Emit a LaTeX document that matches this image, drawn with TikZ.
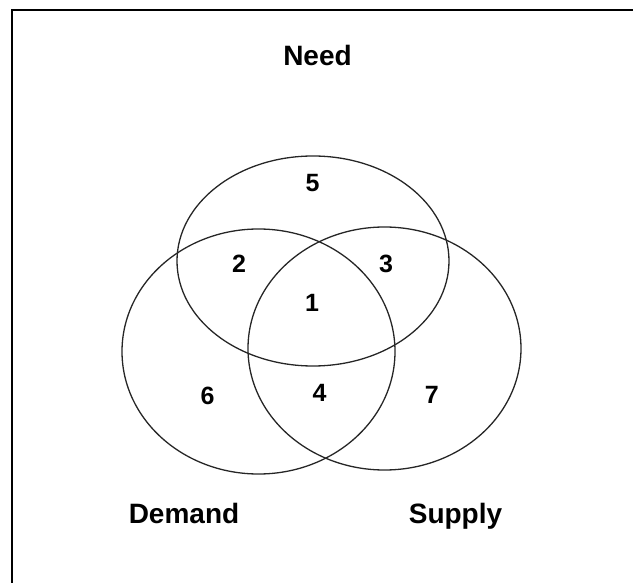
\documentclass[tikz,border=0pt]{standalone}
\usepackage{fontspec}
\setmainfont{Liberation Sans}
\begin{document}
\begin{tikzpicture}[x=1pt,y=-1pt,
  venn/.style={draw=black!85,line width=1.3pt},
  setlabel/.style={font=\bfseries\fontsize{28}{30}\selectfont,inner sep=0pt,anchor=base},
  region/.style={font=\bfseries\fontsize{25}{27}\selectfont,inner sep=0pt}]
\useasboundingbox (0,0) rectangle (633,583);
\clip (0,0) rectangle (633,583);
\draw[line width=2pt] (11.5,10.5) rectangle (660,610);
\draw[venn] (313,261) ellipse [x radius=136, y radius=105];
\draw[venn] (258.5,351.5) ellipse [x radius=136.5, y radius=122.5];
\draw[venn] (384.5,348.5) ellipse [x radius=136.5, y radius=121.5];
\node[setlabel] (need) at (317.5,65.5) {Need};
\node[setlabel] (demand) at (184,523.5) {Demand};
\node[setlabel] (supply) at (455.5,523.5) {Supply};
\node[region] (r5) at (312.7,183) {5};
\node[region] (r2) at (239,264) {2};
\node[region] (r3) at (386,264) {3};
\node[region] (r1) at (312,302.5) {1};
\node[region] (r4) at (319.5,393) {4};
\node[region] (r6) at (207.5,396) {6};
\node[region] (r7) at (431.7,394.7) {7};
\end{tikzpicture}
\end{document}
